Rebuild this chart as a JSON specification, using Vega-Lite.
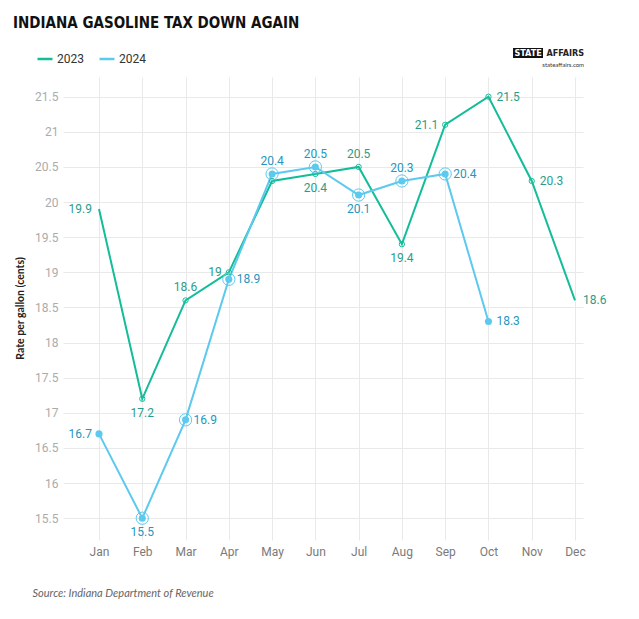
{
  "$schema": "https://vega.github.io/schema/vega-lite/v6.json",
  "width": 520,
  "height": 463,
  "autosize": {"type": "none"},
  "padding": {"left": 63, "top": 77, "right": 56, "bottom": 79},
  "background": "white",
  "title": {
    "text": "INDIANA GASOLINE TAX DOWN AGAIN",
    "font": "DejaVu Sans Condensed, sans-serif",
    "fontSize": 15,
    "fontWeight": "bold",
    "color": "#111111",
    "anchor": "start",
    "frame": "group",
    "baseline": "alphabetic",
    "dx": -50,
    "offset": 5
  },
  "config": {
    "view": {"stroke": null},
    "font": "Roboto"
  },
  "data": {
    "values": [
      {"month": 1, "series": "2023", "value": 19.9},
      {"month": 2, "series": "2023", "value": 17.2},
      {"month": 3, "series": "2023", "value": 18.6},
      {"month": 4, "series": "2023", "value": 19.0},
      {"month": 5, "series": "2023", "value": 20.3},
      {"month": 6, "series": "2023", "value": 20.4},
      {"month": 7, "series": "2023", "value": 20.5},
      {"month": 8, "series": "2023", "value": 19.4},
      {"month": 9, "series": "2023", "value": 21.1},
      {"month": 10, "series": "2023", "value": 21.5},
      {"month": 11, "series": "2023", "value": 20.3},
      {"month": 12, "series": "2023", "value": 18.6},
      {"month": 1, "series": "2024", "value": 16.7},
      {"month": 2, "series": "2024", "value": 15.5},
      {"month": 3, "series": "2024", "value": 16.9},
      {"month": 4, "series": "2024", "value": 18.9},
      {"month": 5, "series": "2024", "value": 20.4},
      {"month": 6, "series": "2024", "value": 20.5},
      {"month": 7, "series": "2024", "value": 20.1},
      {"month": 8, "series": "2024", "value": 20.3},
      {"month": 9, "series": "2024", "value": 20.4},
      {"month": 10, "series": "2024", "value": 18.3}
    ]
  },
  "encoding": {
    "x": {
      "field": "month",
      "type": "quantitative",
      "scale": {"domain": [0.168, 12.185], "nice": false, "zero": false},
      "axis": {
        "values": [1, 2, 3, 4, 5, 6, 7, 8, 9, 10, 11, 12],
        "labelExpr": "['Jan','Feb','Mar','Apr','May','Jun','Jul','Aug','Sep','Oct','Nov','Dec'][datum.value - 1]",
        "grid": true,
        "gridColor": "#e9e9e9",
        "gridWidth": 1,
        "domain": false,
        "ticks": false,
        "labelPadding": 6,
        "labelFont": "Roboto",
        "labelFontSize": 12,
        "labelColor": "#7a7a7a",
        "labelBaseline": "top",
        "title": "Source: Indiana Department of Revenue",
        "titleFont": "Lato",
        "titleFontStyle": "italic",
        "titleFontWeight": "normal",
        "titleFontSize": 11,
        "titleColor": "#666666",
        "titleAnchor": "start",
        "titleAlign": "left",
        "titleBaseline": "alphabetic",
        "titleX": -31,
        "titleY": 56
      }
    },
    "y": {
      "field": "value",
      "type": "quantitative",
      "scale": {"domain": [15.19, 21.78], "nice": false, "zero": false},
      "axis": {
        "values": [15.5, 16, 16.5, 17, 17.5, 18, 18.5, 19, 19.5, 20, 20.5, 21, 21.5],
        "format": ".1~f",
        "grid": true,
        "gridColor": "#e9e9e9",
        "gridWidth": 1,
        "domain": false,
        "ticks": false,
        "labelPadding": 5,
        "labelFont": "Roboto",
        "labelFontSize": 12,
        "labelColor": "#ababab",
        "title": "Rate per gallon (cents)",
        "titleFont": "Lato",
        "titleFontSize": 10.5,
        "titleFontWeight": "bold",
        "titleColor": "#222222",
        "titleAngle": -90,
        "titleAlign": "center",
        "titleBaseline": "middle",
        "titleX": -43,
        "titleY": 231
      }
    }
  },
  "layer": [
    {
      "mark": {"type": "line", "strokeWidth": 2},
      "encoding": {
        "color": {
          "field": "series",
          "type": "nominal",
          "scale": {"domain": ["2023", "2024"], "range": ["#14bd9a", "#5cc9ee"]},
          "legend": {
            "title": null,
            "orient": "none",
            "legendX": -27,
            "legendY": -27,
            "direction": "horizontal",
            "symbolType": "stroke",
            "symbolSize": 225,
            "symbolStrokeWidth": 2.5,
            "labelFont": "Roboto",
            "labelFontSize": 12,
            "labelColor": "#333333",
            "labelOffset": 3,
            "columnPadding": 10
          }
        }
      }
    },
    {
      "transform": [{"filter": "datum.series == '2023' && datum.month > 1 && datum.month < 12"}],
      "mark": {"type": "point", "filled": false, "size": 28, "strokeWidth": 1, "color": "#14bd9a", "opacity": 1}
    },
    {
      "transform": [{"filter": "datum.series == '2024' && datum.month > 1 && datum.month < 10"}],
      "mark": {"type": "point", "filled": false, "size": 150, "strokeWidth": 1, "color": "#5cc9ee", "opacity": 1}
    },
    {
      "transform": [{"filter": "datum.series == '2024'"}],
      "mark": {"type": "point", "filled": true, "size": 50, "color": "#5cc9ee", "opacity": 1}
    },
    {
      "transform": [{"filter": "(datum.series == '2023' && (datum.month == 3 || datum.month == 7)) || (datum.series == '2024' && (datum.month == 5 || datum.month == 6 || datum.month == 8))"}],
      "mark": {"type": "text", "font": "Roboto", "fontSize": 12, "align": "center", "baseline": "middle", "dy": -13},
      "encoding": {
        "text": {"field": "value", "type": "quantitative", "format": ".1~f"},
        "color": {"condition": {"test": "datum.series == '2023'", "value": "#2a9d8a"}, "value": "#2596be"}
      }
    },
    {
      "transform": [{"filter": "(datum.series == '2023' && (datum.month == 2 || datum.month == 6 || datum.month == 8)) || (datum.series == '2024' && (datum.month == 2 || datum.month == 7))"}],
      "mark": {"type": "text", "font": "Roboto", "fontSize": 12, "align": "center", "baseline": "middle", "dy": 14},
      "encoding": {
        "text": {"field": "value", "type": "quantitative", "format": ".1~f"},
        "color": {"condition": {"test": "datum.series == '2023'", "value": "#2a9d8a"}, "value": "#2596be"}
      }
    },
    {
      "transform": [{"filter": "(datum.series == '2023' && (datum.month == 1 || datum.month == 4 || datum.month == 9)) || (datum.series == '2024' && datum.month == 1)"}],
      "mark": {"type": "text", "font": "Roboto", "fontSize": 12, "align": "right", "baseline": "middle", "dx": -7},
      "encoding": {
        "text": {"field": "value", "type": "quantitative", "format": ".1~f"},
        "color": {"condition": {"test": "datum.series == '2023'", "value": "#2a9d8a"}, "value": "#2596be"}
      }
    },
    {
      "transform": [{"filter": "(datum.series == '2023' && (datum.month == 10 || datum.month == 11 || datum.month == 12)) || (datum.series == '2024' && (datum.month == 3 || datum.month == 4 || datum.month == 9 || datum.month == 10))"}],
      "mark": {"type": "text", "font": "Roboto", "fontSize": 12, "align": "left", "baseline": "middle", "dx": 8},
      "encoding": {
        "text": {"field": "value", "type": "quantitative", "format": ".1~f"},
        "color": {"condition": {"test": "datum.series == '2023'", "value": "#2a9d8a"}, "value": "#2596be"}
      }
    },
    {
      "transform": [{"filter": "datum.series == '2023' && datum.month == 1"}],
      "mark": {"type": "rect", "color": "#111111", "clip": false},
      "encoding": {
        "x": {"datum": 10.568, "type": "quantitative"},
        "x2": {"datum": 11.261},
        "y": {"datum": 22.193, "type": "quantitative"},
        "y2": {"datum": 22.05}
      }
    },
    {
      "transform": [{"filter": "datum.series == '2023' && datum.month == 1"}],
      "mark": {"type": "text", "clip": false, "font": "DejaVu Sans Condensed, sans-serif", "fontWeight": "bold", "fontSize": 9, "color": "white", "align": "center", "baseline": "middle"},
      "encoding": {
        "x": {"datum": 10.915, "type": "quantitative"},
        "y": {"datum": 22.122, "type": "quantitative"},
        "text": {"value": "STATE"}
      }
    },
    {
      "transform": [{"filter": "datum.series == '2023' && datum.month == 1"}],
      "mark": {"type": "text", "clip": false, "font": "DejaVu Sans Condensed, sans-serif", "fontWeight": "bold", "fontSize": 9, "color": "#222222", "align": "right", "baseline": "middle"},
      "encoding": {
        "x": {"datum": 12.209, "type": "quantitative"},
        "y": {"datum": 22.122, "type": "quantitative"},
        "text": {"value": "AFFAIRS"}
      }
    },
    {
      "transform": [{"filter": "datum.series == '2023' && datum.month == 1"}],
      "mark": {"type": "text", "clip": false, "font": "Lato", "fontSize": 6, "color": "#333333", "align": "right", "baseline": "middle"},
      "encoding": {
        "x": {"datum": 12.209, "type": "quantitative"},
        "y": {"datum": 21.951, "type": "quantitative"},
        "text": {"value": "stateaffairs.com"}
      }
    }
  ]
}
